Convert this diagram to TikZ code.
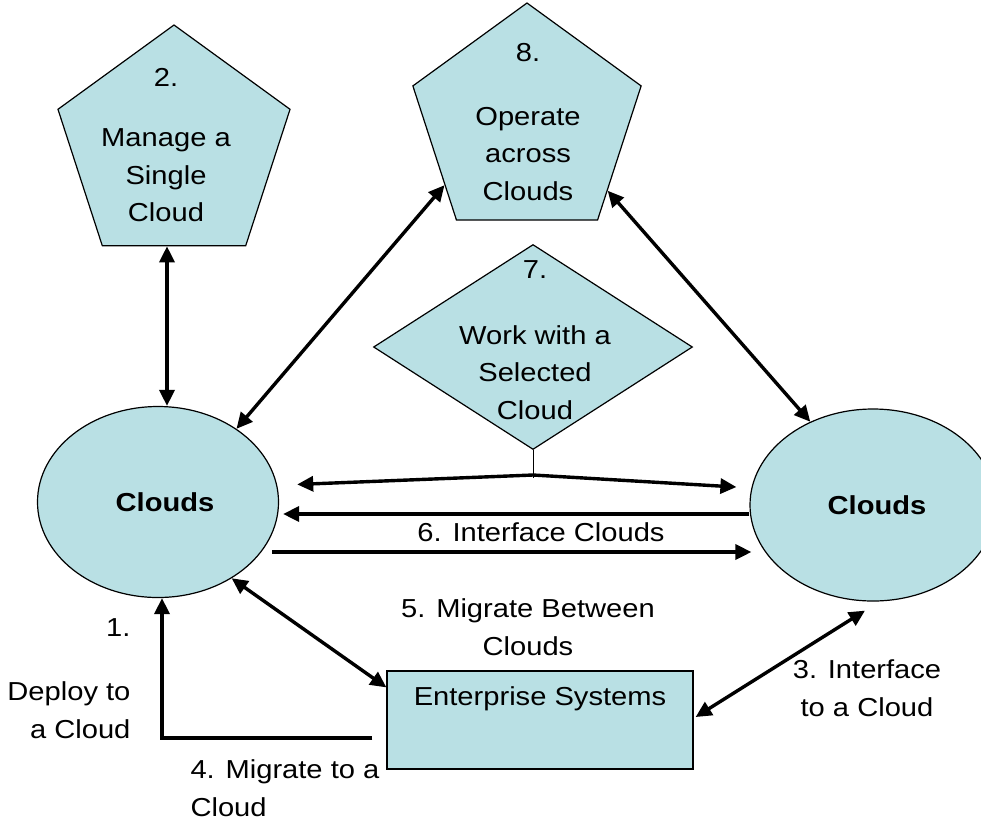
\documentclass[tikz,border=0pt]{standalone}
\usepackage{fontspec}
\setmainfont{Liberation Sans}[FakeStretch=1.12]
\usetikzlibrary{arrows.meta, shapes.geometric}
\definecolor{cloudfill}{RGB}{185,224,228}

\begin{document}
\begin{tikzpicture}[x=1pt, y=-1pt,
  >={Triangle[length=16pt, width=15pt]},
  every node/.style={font=\fontsize{26}{37.5}\selectfont, align=center},
  bluefill/.style={draw, line width=1.2pt, fill=cloudfill, inner sep=0pt},
  pent/.style={bluefill, regular polygon, regular polygon sides=5, minimum size=244pt},
  cloudset/.style={bluefill, ellipse, font=\fontsize{26}{37.5}\selectfont\bfseries},
  link/.style={line width=3.4pt}
]
\useasboundingbox (0,0) rectangle (981,820);

% Define nodes
\path
(174,147) node[pent] (manage) {}
(527,123) node[pent, minimum size=240pt] (operate) {}
(533,347) node[bluefill, diamond, minimum width=319pt, minimum height=205pt] (select) {}
(158,502) node[cloudset, minimum width=241pt, minimum height=191pt] (leftcloud) {\hspace{14pt}Clouds}
(873,505) node[cloudset, minimum width=246pt, minimum height=192pt] (rightcloud) {\hspace{8pt}Clouds}
(540,720) node[bluefill, minimum width=306pt, minimum height=98pt] (enterprise) {}
;

% Texts in the shapes
\path
(166,145) node {2.\\[23pt]Manage a\\Single\\Cloud}
(528,122) node {8.\\[26pt]Operate\\across\\Clouds}
(535,340) node {7.\\[28pt]Work with a\\Selected\\Cloud}
(540,699) node {Enterprise Systems}
;

% Labels
\path
(134,628) node[anchor=east] {1.}
(134,710) node[anchor=east, align=right] {Deploy to\\a Cloud}
(187,788) node[anchor=west, align=left] {4. Migrate to a\\Cloud}
(528,627) node {5. Migrate Between\\Clouds}
(867,688) node {3. Interface\\to a Cloud}
(541,532) node {6. Interface Clouds}
;

% Connectors
\begin{scope}[link]
\draw[<->] ([xshift=-7pt]manage.south) -- ([xshift=-7pt]manage.south |- leftcloud.north);
\draw[<->] (leftcloud.43) -- (operate.217);
\draw[<->] (operate.320) -- (rightcloud.127);
\draw[<->, shorten <=20pt, shorten >=15pt]
(leftcloud.8) -- (533,475) coordinate (fork) -- (rightcloud.172);
\draw[->, shorten >=4pt] ([yshift=-9pt]rightcloud.west) -- ([yshift=-12pt]leftcloud.east);
\draw[->] ([shift={(-7,50)}]leftcloud.east) -- ([shift={(2,47)}]rightcloud.west);
\draw[<->] (leftcloud.314) -- ([yshift=-17pt]enterprise.north west);
\draw[->] ([shift={(-14,18)}]enterprise.west) -| ([xshift=4pt]leftcloud.south);
\draw[<->] ([shift={(2,-3)}]enterprise.east) -- ([shift={(-8,9)}]rightcloud.south);
\end{scope}
\draw[line width=1pt] (select.south) -- ([yshift=-3pt]fork);

\end{tikzpicture}
\end{document}
